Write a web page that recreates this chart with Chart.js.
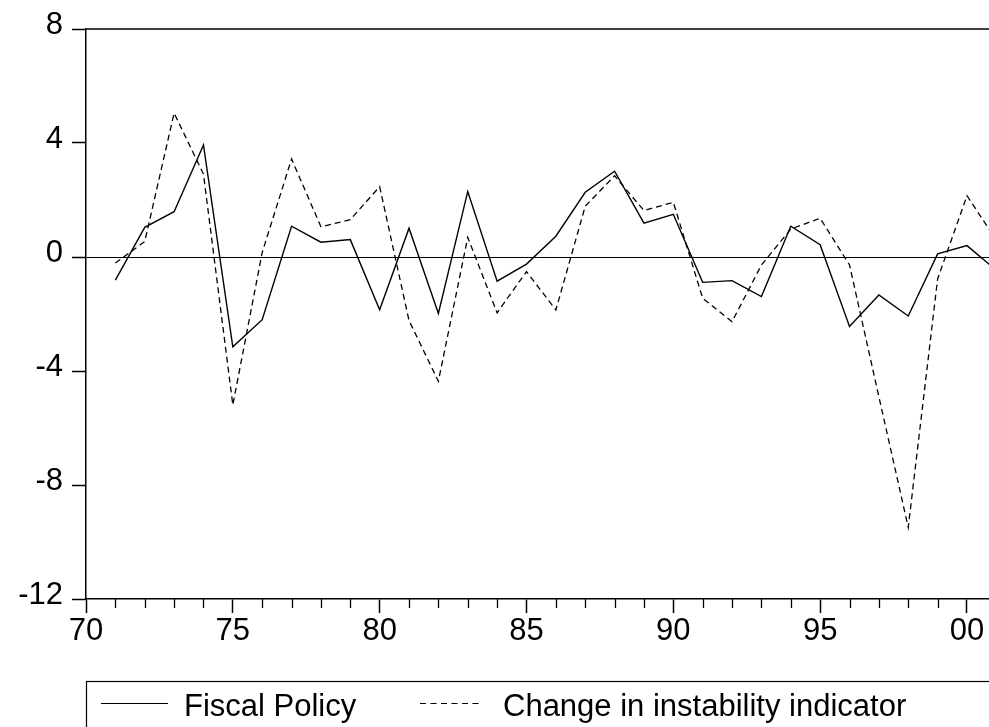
<!DOCTYPE html>
<html>
<head>
<meta charset="utf-8">
<script src="https://cdn.jsdelivr.net/npm/chart.js@4"></script>
<style>
  html, body { margin: 0; padding: 0; background: #fff; overflow: hidden; }
  #chart { display: block; }
</style>
</head>
<body>
<canvas id="chart" width="989" height="727"></canvas>
<script>
const years = [1971, 1972, 1973, 1974, 1975, 1976, 1977, 1978, 1979, 1980,
  1981, 1982, 1983, 1984, 1985, 1986, 1987, 1988, 1989, 1990,
  1991, 1992, 1993, 1994, 1995, 1996, 1997, 1998, 1999, 2000, 2001];

const fiscalPolicy = [-0.81, 1.04, 1.59, 3.93, -3.15, -2.2, 1.08, 0.52, 0.61, -1.85,
  1.01, -1.98, 2.3, -0.85, -0.25, 0.73, 2.27, 3.01, 1.19, 1.5,
  -0.89, -0.83, -1.39, 1.08, 0.43, -2.44, -1.33, -2.07, 0.11, 0.4, -0.47];

const instabilityChange = [-0.21, 0.54, 5.05, 2.91, -5.19, 0.16, 3.44, 1.06, 1.31, 2.47,
  -2.23, -4.36, 0.69, -1.96, -0.51, -1.86, 1.78, 2.85, 1.63, 1.92,
  -1.45, -2.27, -0.28, 0.98, 1.36, -0.28, -4.9, -9.49, -0.77, 2.15, 0.59];

const tickYears = [];
for (let y = 1970; y <= 2000; y += 1) tickYears.push(y);

const seriesNames = ["Fiscal Policy", "Change in instability indicator"];
const FONT = "Arial, 'Liberation Sans', sans-serif";

const toPoints = (vals) => vals.map((v, i) => ({ x: years[i], y: v }));

// minor year ticks + top frame line
const frameTicksPlugin = {
  id: "frameTicks",
  afterDraw(chart) {
    const { ctx, chartArea, scales } = chart;
    ctx.save();
    ctx.strokeStyle = "#000";
    ctx.lineWidth = 1.5;
    ctx.beginPath();
    ctx.moveTo(chartArea.left, chartArea.top);
    ctx.lineTo(chartArea.right, chartArea.top);
    ctx.stroke();
    ctx.lineWidth = 1.3;
    tickYears.forEach((yr) => {
      if (yr % 5 === 0) return;
      const x = Math.round(scales.x.getPixelForValue(yr)) + 0.5;
      ctx.beginPath();
      ctx.moveTo(x, chartArea.bottom);
      ctx.lineTo(x, chartArea.bottom + 9);
      ctx.stroke();
    });
    ctx.restore();
  },
};

const boxLegendPlugin = {
  id: "boxLegend",
  afterDraw(chart) {
    const { ctx, chartArea } = chart;
    const left = chartArea.left;
    const top = 681;
    ctx.save();
    ctx.strokeStyle = "#000";
    ctx.lineWidth = 1.2;
    ctx.strokeRect(left + 0.5, top + 0.5, 1100, 200);
    const lineY = 703.5;
    ctx.lineWidth = 1.2;
    ctx.beginPath();
    ctx.moveTo(101, lineY);
    ctx.lineTo(168, lineY);
    ctx.stroke();
    ctx.setLineDash([6, 4.5]);
    ctx.beginPath();
    ctx.moveTo(420, lineY);
    ctx.lineTo(483, lineY);
    ctx.stroke();
    ctx.setLineDash([]);
    ctx.fillStyle = "#000";
    ctx.font = "31px " + FONT;
    ctx.textBaseline = "alphabetic";
    ctx.fillText(seriesNames[0], 184, 716);
    ctx.fillText(seriesNames[1], 503, 716);
    ctx.restore();
  },
};

new Chart(document.getElementById("chart").getContext("2d"), {
  type: "line",
  data: {
    datasets: [
      {
        label: seriesNames[0],
        data: toPoints(fiscalPolicy),
        borderColor: "#000",
        borderWidth: 1.4,
        pointRadius: 0,
        tension: 0,
      },
      {
        label: seriesNames[1],
        data: toPoints(instabilityChange),
        borderColor: "#000",
        borderWidth: 1.3,
        borderDash: [6, 4],
        pointRadius: 0,
        tension: 0,
      },
    ],
  },
  options: {
    responsive: false,
    animation: false,
    layout: { padding: { top: 29, right: 0, bottom: 78, left: 0 } },
    plugins: {
      legend: { display: false },
      tooltip: { enabled: false },
    },
    scales: {
      x: {
        type: "linear",
        min: 1970,
        max: 2000.75,
        afterBuildTicks: (scale) => {
          scale.ticks = tickYears.map((v) => ({ value: v }));
        },
        afterFit: (scale) => {
          scale.height = 50;
        },
        ticks: {
          autoSkip: false,
          maxRotation: 0,
          padding: 0,
          color: "#000",
          font: { family: FONT, size: 31 },
          callback: (v) => (v % 5 === 0 ? String(v % 100).padStart(2, "0") : ""),
        },
        grid: {
          drawOnChartArea: false,
          tickLength: 14,
          tickWidth: 1.5,
          tickColor: (c) => (c.tick && c.tick.value % 5 === 0 ? "#000" : "rgba(0,0,0,0)"),
        },
        border: { color: "#000", width: 1.5 },
      },
      y: {
        min: -12,
        max: 8,
        afterFit: (scale) => {
          scale.width = 86;
        },
        ticks: {
          stepSize: 4,
          padding: 9,
          labelOffset: -4,
          color: "#000",
          font: { family: FONT, size: 31 },
        },
        grid: {
          color: (c) => (c.tick && c.tick.value === 0 ? "#000" : "rgba(0,0,0,0)"),
          lineWidth: 1,
          tickLength: 14,
          tickWidth: 1.5,
          tickColor: "#000",
        },
        border: { color: "#000", width: 1.5 },
      },
    },
  },
  plugins: [frameTicksPlugin, boxLegendPlugin],
});
</script>
</body>
</html>
